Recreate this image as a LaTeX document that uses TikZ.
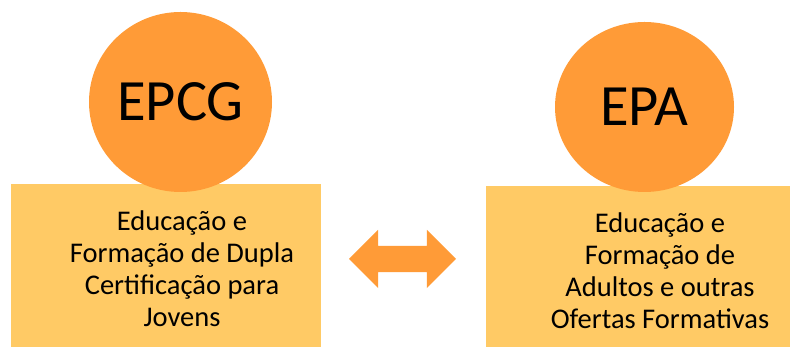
\documentclass[tikz,border=0pt]{standalone}
\usepackage{fontspec}
\setmainfont{Carlito}
\usepackage{tikz}
\usetikzlibrary{shapes,arrows}
\definecolor{discorange}{HTML}{FF9B37}
\definecolor{boxgold}{HTML}{FFCA65}
\newcommand{\boxfont}{\fontsize{28.5}{32}\selectfont}

\begin{document}
\begin{tikzpicture}[x=1pt, y=1pt]
            \tikzset{BoxStyle/.style = {rectangle, fill=boxgold, draw=none, inner sep=0pt}}
            \tikzset{DiscStyle/.style = {ellipse, fill=discorange, draw=none, inner sep=0pt,
                                         font=\fontsize{58.5}{70}\selectfont}}
            \tikzset{TextStyle/.style = {align=center, font=\boxfont, inner sep=0pt}}
            \tikzset{ArrowStyle/.style = {double arrow, fill=discorange, draw=none,
                                          inner xsep=0pt, inner ysep=13pt,
                                          double arrow head extend=16pt}}
            \useasboundingbox (0,0) rectangle (790,347);
            % left side
            \node[BoxStyle, minimum width=310pt, minimum height=163pt] (boxL) at (166, 81.5) {};
            \node[DiscStyle, minimum width=183pt, minimum height=180pt] (discL) at (180.5, 245) {EPCG};
            \node[TextStyle] (textL) at (182, 78.5) {Educação e\\Formação de Dupla\\Certificação para\\Jovens};
            % right side
            \node[BoxStyle, minimum width=304pt, minimum height=161pt] (boxR) at (638, 80.5) {};
            \node[DiscStyle, minimum width=179pt, minimum height=170pt] (discR) at (644.5, 240) {EPA};
            \node[TextStyle] (textR) at (660, 76) {Educação e\\Formação de\\Adultos e outras\\Ofertas Formativas};
            % link
            \node[ArrowStyle, minimum height=107pt] (link) at (402.5, 88) {};
        \end{tikzpicture}
\end{document}
